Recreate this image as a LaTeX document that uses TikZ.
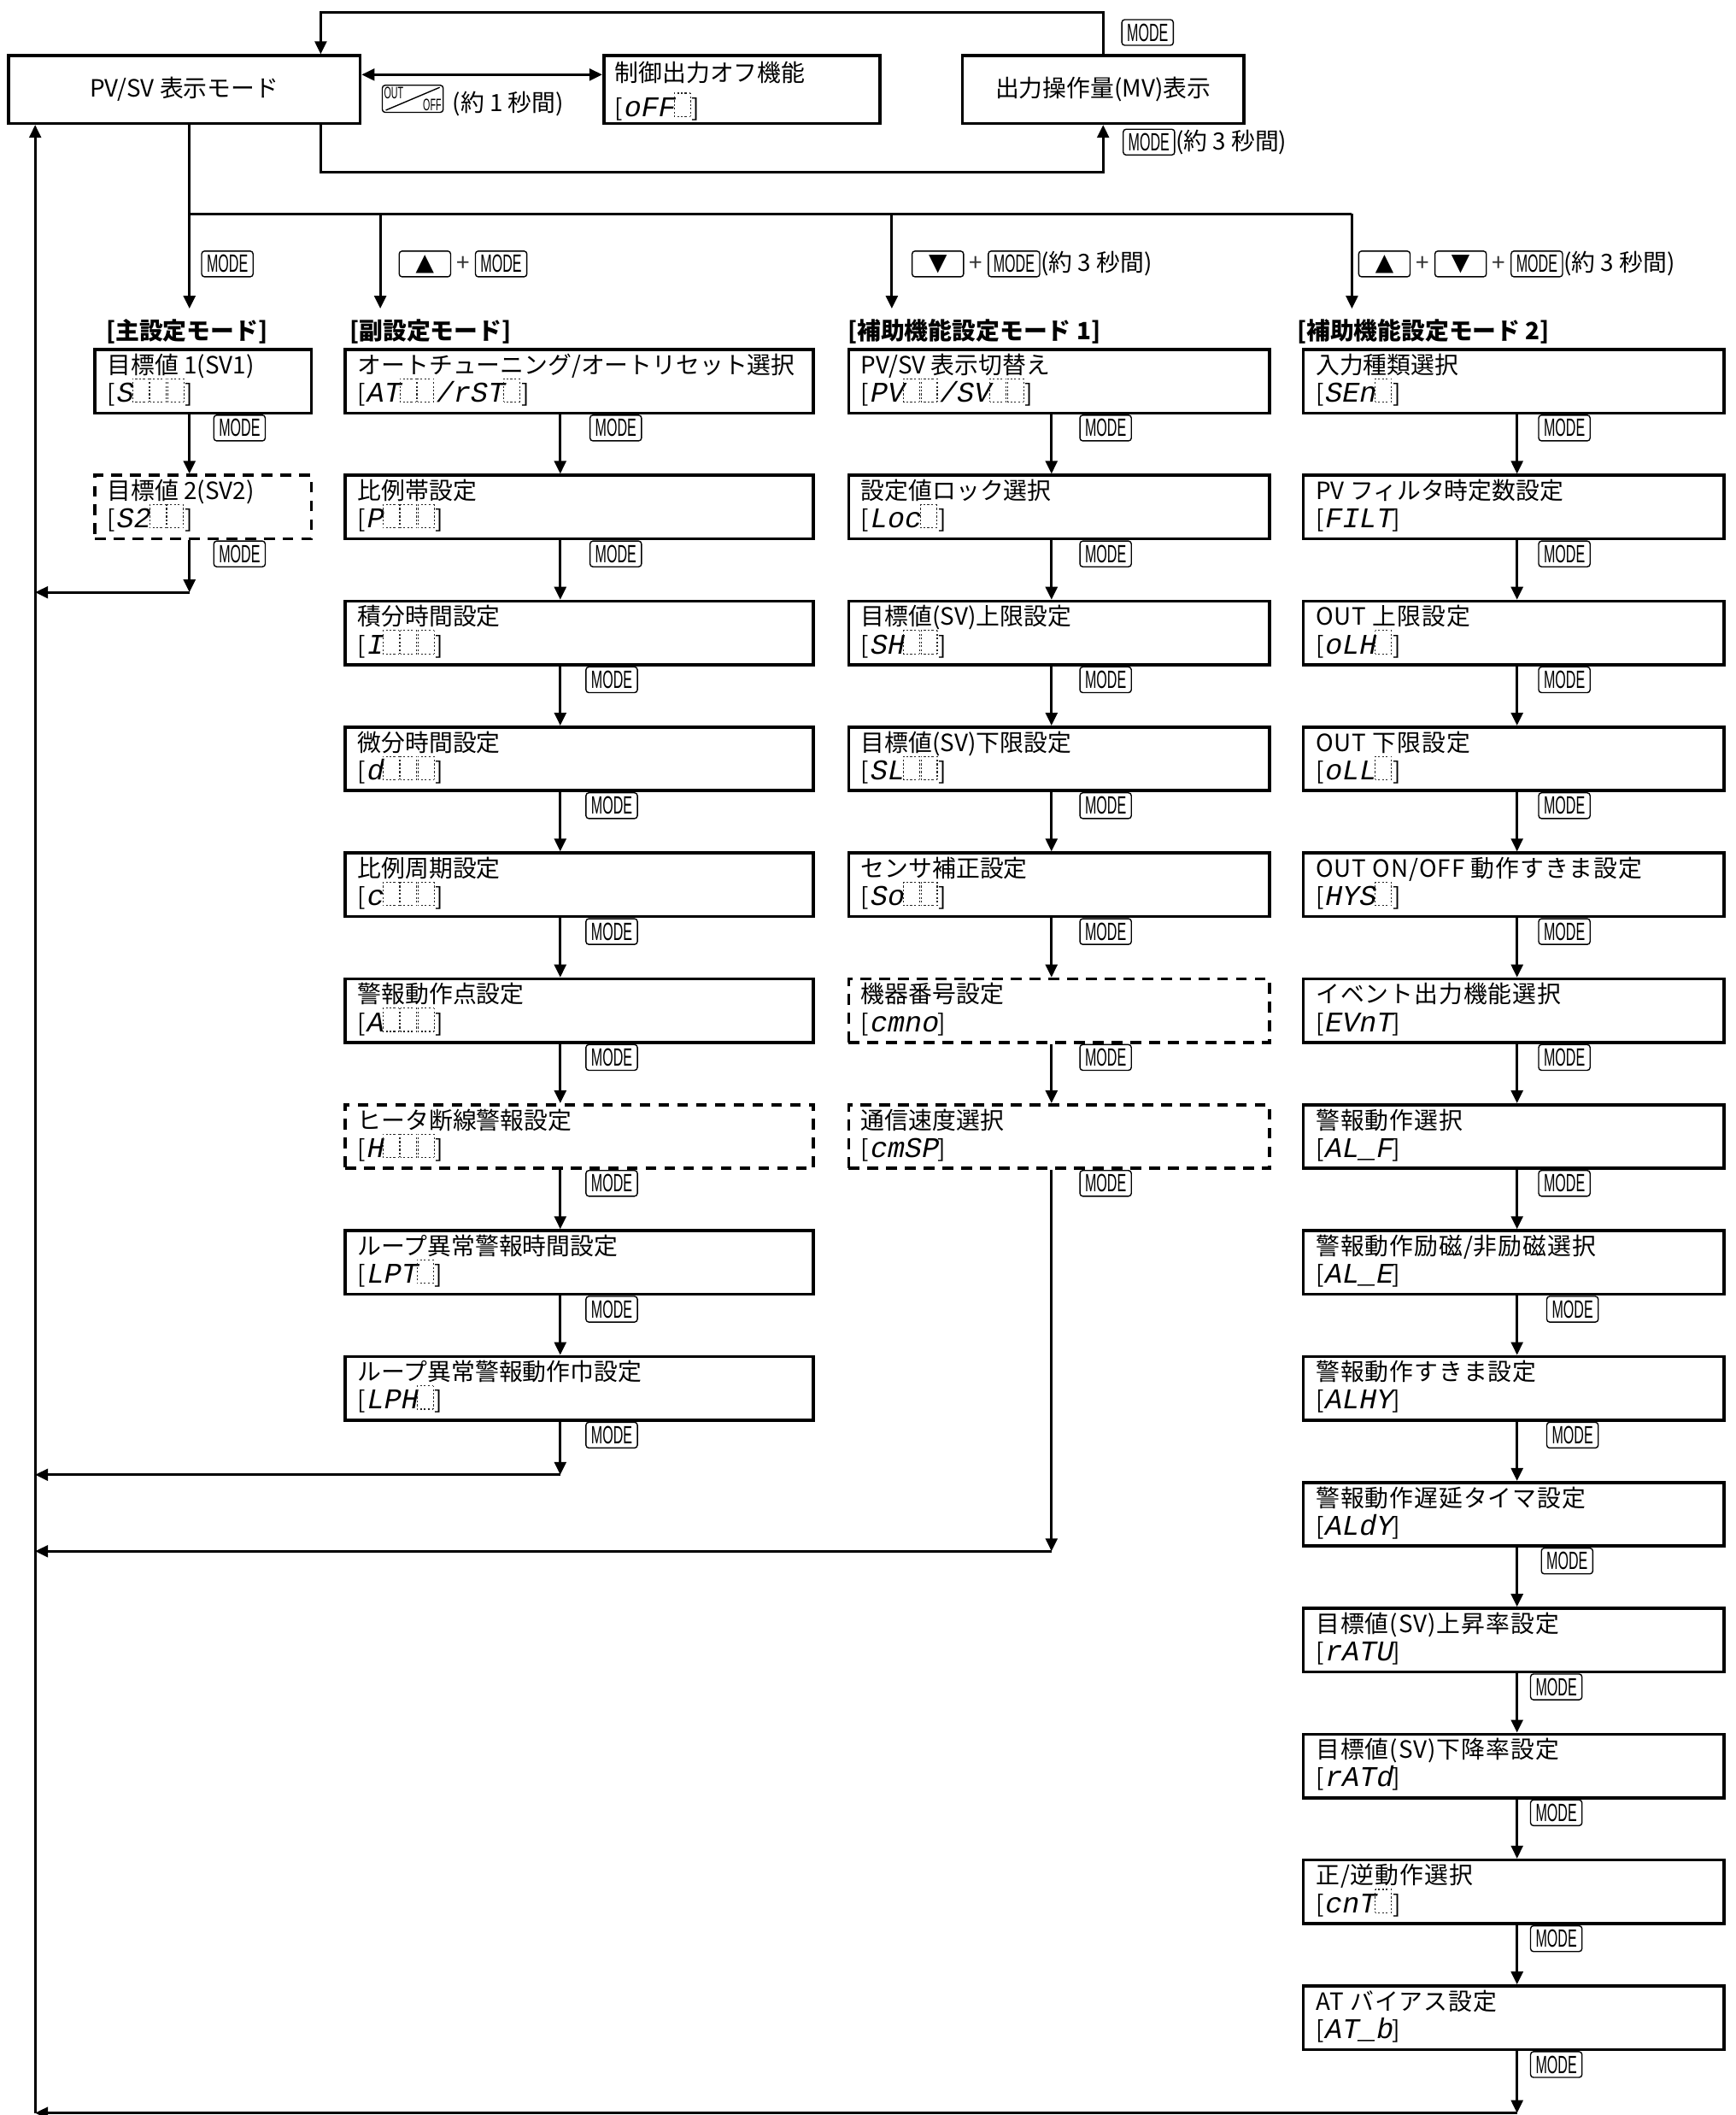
\documentclass[tikz,border=0pt]{standalone}
\usepackage{fontspec}
\setmainfont{Noto Sans CJK JP}
\newfontfamily\segfont[FakeSlant=0.2,Scale=1.2]{Liberation Mono}
\newfontfamily\keyfont[FakeStretch=0.55]{Liberation Sans}
\newfontfamily\symfont{DejaVu Sans}
\usetikzlibrary{calc,positioning,arrows.meta}
\newcommand{\bk}{{\color{black!85}\setlength{\unitlength}{1pt}\dashbox{0.8}(6.8,9.8){}}\kern0.6pt}
\newcommand{\wide}{\addfontfeature{LetterSpace=3.5}}
\newcommand{\parambox}[7][parbox]{%
  \node[#1,anchor=north west,minimum width=#5*0.02cm] (#2) at (#3,#4) {};
  \node[ttl] (#2t) at (#3+10,#4+19) {#6};
  \node[seg] (#2d) at (#3+10,#4+40) {[{\segfont #7}]};
}

\begin{document}
\begin{tikzpicture}[x=0.02cm,y=-0.02cm,
    parbox/.style={draw,line width=1.3pt,minimum height=0.94cm,inner sep=0pt},
    optbox/.style={parbox,dash pattern=on 4.5pt off 3.4pt},
    conn/.style={line width=1pt},
    flow/.style={conn,-{Triangle[length=5.4pt,width=5pt]}},
    twoway/.style={conn,{Triangle[length=5.4pt,width=5pt]}-{Triangle[length=5.4pt,width=5pt]}},
    keybox/.style={draw,line width=0.5pt,rounded corners=1.2pt,minimum width=0.76cm,
      minimum height=0.38cm,inner sep=0pt,font=\keyfont\fontsize{10.5}{10.5}\selectfont},
    arrkey/.style={keybox,font=\symfont\fontsize{10}{10}\selectfont},
    plus/.style={inner sep=0pt,text=black!80},
    hdr/.style={font=\bfseries,inner sep=0pt,anchor=west},
    ttl/.style={inner sep=0pt,anchor=base west},
    seg/.style={inner sep=0pt,anchor=base west},
    node distance=0.07cm]
    \useasboundingbox (0,0) rectangle (1282.2,1562.5);

    % top row
    \node[parbox,anchor=north west,minimum width=260*0.02cm,minimum height=1cm] (pvsv) at (5,40) {PV/SV 表示モード};
    \node[parbox,anchor=north west,minimum width=204*0.02cm,minimum height=1cm] (off) at (445,40) {};
    \node[ttl] (offt) at (454,60) {制御出力オフ機能};
    \node[seg] (offd) at (454,86) {[{\segfont oFF\bk}]};
    \node[parbox,anchor=north west,minimum width=208*0.02cm,minimum height=1cm] (mv) at (710,40) {出力操作量(MV)表示};

    \draw[twoway] ($(pvsv.east)+(0,-11)$) -- ($(off.west)+(0,-11)$);
    \node[keybox,minimum width=0.9cm,minimum height=0.4cm] (outkey) at (305,73) {};
    \node[font=\keyfont\fontsize{7}{7}\selectfont,inner sep=0.8pt,anchor=north west] (outa) at (outkey.north west) {OUT};
    \node[font=\keyfont\fontsize{7}{7}\selectfont,inner sep=0.8pt,anchor=south east] (outb) at (outkey.south east) {OFF};
    \draw[line width=0.5pt] ($(outkey.south west)+(3,-2)$) -- ($(outkey.north east)+(-3,2)$);
    \node[anchor=west,inner sep=0pt] (outt) at (334,77) {(約 1 秒間)};

    \coordinate (tl) at (237,9);
    \coordinate (bl) at (237,127);
    \draw[flow] (mv.north) |- (tl) -- (tl |- pvsv.north);
    \draw[flow] (bl |- pvsv.south) -- (bl) -| (mv.south);
    \node[keybox] (mvk1) at (848,24) {MODE};
    \node[keybox] (mvk2) at (849,105) {MODE};
    \node[anchor=west,inner sep=0pt] (mvt2) at (mvk2.east) {(約 3 秒間)};

    % bus to the four setting modes
    \coordinate (a1) at (140,228);
    \coordinate (a2) at (281,228);
    \coordinate (a3) at (659,228);
    \coordinate (a4) at (999,228);
    \coordinate (bus) at (140,158);
    \draw[flow] (a1 |- pvsv.south) -- (a1);
    \draw[conn] (bus) -- (bus -| a4);
    \draw[flow] (bus -| a2) -- (a2);
    \draw[flow] (bus -| a3) -- (a3);
    \draw[flow] (bus -| a4) -- (a4);

    \node[keybox] (k1) at (168,195) {MODE};
    \node[arrkey] (k2a) at (314,195) {▲};
    \node[plus,right=of k2a] (k2p) {+};
    \node[keybox,right=of k2p] (k2b) {MODE};
    \node[arrkey] (k3a) at (693,195) {▼};
    \node[plus,right=of k3a] (k3p) {+};
    \node[keybox,right=of k3p] (k3b) {MODE};
    \node[inner sep=0pt,right=0pt of k3b] (k3t) {(約 3 秒間)};
    \node[arrkey] (k4a) at (1023,195) {▲};
    \node[plus,right=of k4a] (k4p) {+};
    \node[arrkey,right=of k4p] (k4b) {▼};
    \node[plus,right=of k4b] (k4q) {+};
    \node[keybox,right=of k4q] (k4c) {MODE};
    \node[inner sep=0pt,right=0pt of k4c] (k4t) {(約 3 秒間)};

    \node[hdr] (h1) at (78,245) {[主設定モード]};
    \node[hdr] (h2) at (258,245) {[副設定モード]};
    \node[hdr] (h3) at (626,245) {[補助機能設定モード 1]};
    \node[hdr] (h4) at (958,245) {[補助機能設定モード 2]};

    % column lines
    \coordinate (l1) at (140,0);
    \coordinate (l2) at (414,0);
    \coordinate (l3) at (777,0);
    \coordinate (l4) at (1121,0);
    \coordinate (lft) at (26,0);

    % main setting mode
    \parambox{s0}{69}{257}{160}{目標値 1(SV1)}{S\bk\bk\bk}
    \parambox[optbox]{s1}{69}{350}{160}{目標値 2(SV2)}{S2\bk\bk}

    % sub setting mode
    \parambox{p0}{254}{257}{346}{オートチューニング/オートリセット選択}{AT\bk\bk/rST\bk}
    \parambox{p1}{254}{350}{346}{比例帯設定}{P\bk\bk\bk}
    \parambox{p2}{254}{443}{346}{積分時間設定}{I\bk\bk\bk}
    \parambox{p3}{254}{536}{346}{微分時間設定}{d\bk\bk\bk}
    \parambox{p4}{254}{629}{346}{比例周期設定}{c\bk\bk\bk}
    \parambox{p5}{254}{722}{346}{警報動作点設定}{A\bk\bk\bk}
    \parambox[optbox]{p6}{254}{815}{346}{ヒータ断線警報設定}{H\bk\bk\bk}
    \parambox{p7}{254}{908}{346}{ループ異常警報時間設定}{LPT\bk}
    \parambox{p8}{254}{1001}{346}{ループ異常警報動作巾設定}{LPH\bk}

    % auxiliary mode 1
    \parambox{u0}{626}{257}{311}{PV/SV 表示切替え}{PV\bk\bk/SV\bk\bk}
    \parambox{u1}{626}{350}{311}{設定値ロック選択}{Loc\bk}
    \parambox{u2}{626}{443}{311}{目標値(SV)上限設定}{SH\bk\bk}
    \parambox{u3}{626}{536}{311}{目標値(SV)下限設定}{SL\bk\bk}
    \parambox{u4}{626}{629}{311}{センサ補正設定}{So\bk\bk}
    \parambox[optbox]{u5}{626}{722}{311}{機器番号設定}{cmno}
    \parambox[optbox]{u6}{626}{815}{311}{通信速度選択}{cmSP}

    % auxiliary mode 2
    \parambox{v0}{962}{257}{311}{入力種類選択}{SEn\bk}
    \parambox{v1}{962}{350}{311}{PV フィルタ時定数設定}{FILT}
    \parambox{v2}{962}{443}{311}{\wide OUT 上限設定}{oLH\bk}
    \parambox{v3}{962}{536}{311}{\wide OUT 下限設定}{oLL\bk}
    \parambox{v4}{962}{629}{311}{\wide OUT ON/OFF 動作すきま設定}{HYS\bk}
    \parambox{v5}{962}{722}{311}{\wide イベント出力機能選択}{EVnT}
    \parambox{v6}{962}{815}{311}{\wide 警報動作選択}{AL\_F}
    \parambox{v7}{962}{908}{311}{\wide 警報動作励磁/非励磁選択}{AL\_E}
    \parambox{v8}{962}{1001}{311}{\wide 警報動作すきま設定}{ALHY}
    \parambox{v9}{962}{1094}{311}{\wide 警報動作遅延タイマ設定}{ALdY}
    \parambox{v10}{962}{1187}{311}{\wide 目標値(SV)上昇率設定}{rATU}
    \parambox{v11}{962}{1280}{311}{\wide 目標値(SV)下降率設定}{rATd}
    \parambox{v12}{962}{1373}{311}{\wide 正/逆動作選択}{cnT\bk}
    \parambox{v13}{962}{1466}{311}{\wide AT バイアス設定}{AT\_b}

    % MODE steps
    \draw[flow] (s0.south -| l1) -- (s1.north -| l1);
    \foreach \i [evaluate=\i as \j using int(\i+1)] in {0,...,7}
      \draw[flow] (p\i.south -| l2) -- (p\j.north -| l2);
    \foreach \i [evaluate=\i as \j using int(\i+1)] in {0,...,5}
      \draw[flow] (u\i.south -| l3) -- (u\j.north -| l3);
    \foreach \i [evaluate=\i as \j using int(\i+1)] in {0,...,12}
      \draw[flow] (v\i.south -| l4) -- (v\j.north -| l4);

    \foreach \i in {0,1}
      \node[keybox,anchor=north] (sm\i) at ($(s\i.south -| l1)+(37,0)$) {MODE};
    \foreach \i/\dx in {0/41,1/41,2/38,3/38,4/38,5/38,6/38,7/38,8/38}
      \node[keybox,anchor=north] (pm\i) at ($(p\i.south -| l2)+(\dx,0)$) {MODE};
    \foreach \i in {0,...,6}
      \node[keybox,anchor=north] (um\i) at ($(u\i.south -| l3)+(40,0)$) {MODE};
    \foreach \i/\dx in {0/35,1/35,2/35,3/35,4/35,5/35,6/35,7/41,8/41,9/37,10/29,11/29,12/29,13/29}
      \node[keybox,anchor=north] (vm\i) at ($(v\i.south -| l4)+(\dx,0)$) {MODE};

    % returns to PV/SV display
    \coordinate (r1) at (140,437.6);
    \coordinate (r2) at (414,1089.5);
    \coordinate (r3) at (777,1146);
    \coordinate (r4) at (1121,1561);
    \draw[flow] (s1.south -| l1) -- (r1);
    \draw[flow] (r1) -- (r1 -| lft);
    \draw[flow] (p8.south -| l2) -- (r2);
    \draw[flow] (r2) -- (r2 -| lft);
    \draw[flow] (u6.south -| l3) -- (r3);
    \draw[flow] (r3) -- (r3 -| lft);
    \draw[flow] (v13.south -| l4) -- (r4);
    \draw[flow] (r4) -- (r4 -| lft);
    \draw[flow] (r4 -| lft) -- (lft |- pvsv.south);
\end{tikzpicture}
\end{document}
